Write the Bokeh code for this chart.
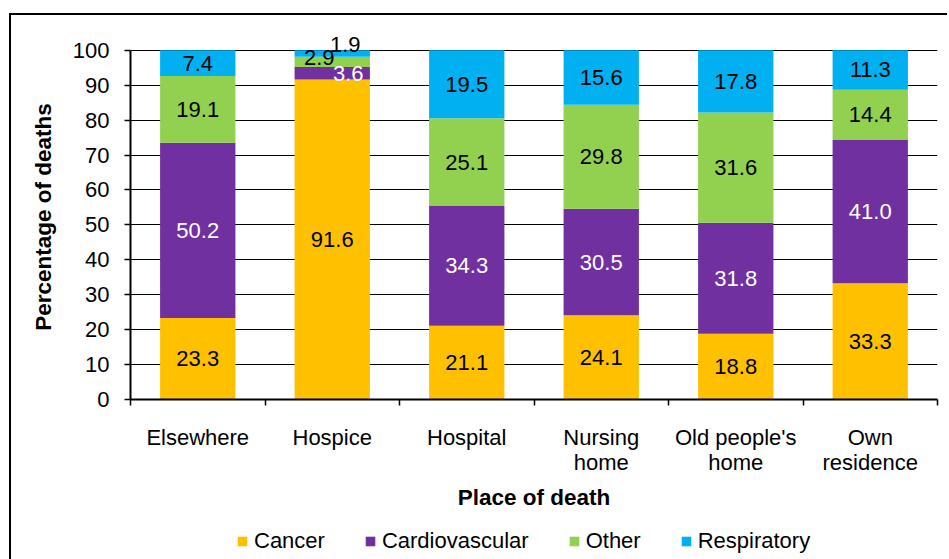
from bokeh.plotting import figure
from bokeh.layouts import column
from bokeh.models import (ColumnDataSource, FixedTicker, Legend, LegendItem,
                          LabelSet, Range1d)
from bokeh.core.properties import value
from bokeh.embed import file_html
from bokeh.resources import INLINE

places = ["Elsewhere", "Hospice", "Hospital", "Nursing\nhome",
          "Old people's\nhome", "Own\nresidence"]
causes = ["Cancer", "Cardiovascular", "Other", "Respiratory"]
cancer = [23.3, 91.6, 21.1, 24.1, 18.8, 33.3]
cardiovascular = [50.2, 3.6, 34.3, 30.5, 31.8, 41.0]
other = [19.1, 2.9, 25.1, 29.8, 31.6, 14.4]
respiratory = [7.4, 1.9, 19.5, 15.6, 17.8, 11.3]
y_ticks = [0, 10, 20, 30, 40, 50, 60, 70, 80, 90, 100]

colors = ["#FFC000", "#7030A0", "#92D050", "#00B0F0"]
label_colors = ["black", "white", "black", "black"]
FONT = "Liberation Sans"
FS = "22px"
TITLE_FS = "22.5px"

xs = [i + 0.5 for i in range(len(places))]
data = dict(x=xs, Cancer=cancer, Cardiovascular=cardiovascular,
            Other=other, Respiratory=respiratory)
src = ColumnDataSource(data)

p = figure(width=936, height=497, output_backend="svg", toolbar_location=None,
           x_range=Range1d(0, len(places)), y_range=Range1d(0, 104.5),
           min_border_left=119, min_border_right=10, min_border_top=19,
           min_border_bottom=113)
p.outline_line_color = None
p.background_fill_color = "white"
p.border_fill_color = "white"

rs = p.vbar_stack(causes, x="x", width=0.56, source=src, color=colors,
                  line_color=None)

# grid
p.xgrid.visible = False
p.ygrid.ticker = FixedTicker(ticks=y_ticks)
p.ygrid.grid_line_color = "black"
p.ygrid.grid_line_width = 1
p.ygrid.level = "underlay"

# y axis
p.yaxis.ticker = FixedTicker(ticks=y_ticks)
p.yaxis.bounds = (0, 100)
p.yaxis.axis_line_color = "black"
p.yaxis.axis_line_width = 2
p.yaxis.major_tick_out = 6
p.yaxis.major_tick_in = 0
p.yaxis.major_tick_line_width = 1.5
p.yaxis.minor_tick_line_color = None
p.yaxis.major_label_text_font = FONT
p.yaxis.major_label_text_font_size = FS
p.yaxis.major_label_text_color = "black"
p.yaxis.major_label_standoff = 15
p.yaxis.axis_label = "Percentage of deaths"
p.yaxis.axis_label_text_font = FONT
p.yaxis.axis_label_text_font_style = "bold"
p.yaxis.axis_label_text_font_size = TITLE_FS
p.yaxis.axis_label_text_color = "black"
p.yaxis.axis_label_standoff = 14

# x axis
p.xaxis.ticker = FixedTicker(ticks=xs, minor_ticks=list(range(len(places) + 1)))
p.xaxis.major_label_overrides = {x: n for x, n in zip(xs, places)}
p.xaxis.axis_line_color = "black"
p.xaxis.axis_line_width = 2
p.xaxis.major_tick_line_color = None
p.xaxis.minor_tick_out = 6
p.xaxis.minor_tick_in = 0
p.xaxis.minor_tick_line_width = 1.5
p.xaxis.major_label_text_font = FONT
p.xaxis.major_label_text_font_size = FS
p.xaxis.major_label_text_color = "black"
p.xaxis.major_label_text_line_height = 1.0
p.xaxis.major_label_standoff = 19
p.xaxis.axis_label = "Place of death"
p.xaxis.axis_label_text_font = FONT
p.xaxis.axis_label_text_font_style = "bold"
p.xaxis.axis_label_text_font_size = TITLE_FS
p.xaxis.axis_label_text_color = "black"
p.xaxis.axis_label_standoff = 7

# data labels
series = [cancer, cardiovascular, other, respiratory]
lx, ly, lt, lc, lo = [], [], [], [], []
for i, x in enumerate(xs):
    base = 0.0
    for k, s in enumerate(series):
        v = s[i]
        lx.append(x)
        ly.append(base + v / 2)
        lt.append(f"{v:.1f}")
        lc.append(label_colors[k])
        lo.append(0)
        base += v
# Hospice small segments: labels shifted as in the reference
hi = 1
idx_card = hi * 4 + 1
idx_oth = hi * 4 + 2
idx_resp = hi * 4 + 3
lo[idx_card] = 16
lo[idx_oth] = -13
ly[idx_oth] = 98.0
lo[idx_resp] = 13
ly[idx_resp] = 101.6
lsrc = ColumnDataSource(dict(x=lx, y=ly, text=lt, color=lc, xo=lo))
labels = LabelSet(x="x", y="y", text="text", source=lsrc, x_offset="xo",
                  text_color="color", text_align="center",
                  text_baseline="middle", text_font=value(FONT),
                  text_font_size=FS)
p.add_layout(labels)

# legend in its own strip below the chart (zero-height proxy glyphs)
p2 = figure(width=936, height=47, output_backend="svg", toolbar_location=None,
            x_axis_type=None, y_axis_type=None, min_border=0,
            x_range=Range1d(0, 1), y_range=Range1d(0, 1))
p2.outline_line_color = None
p2.background_fill_alpha = 0
p2.border_fill_alpha = 0
p2.grid.visible = False
proxies = [p2.vbar(x=[0.5], bottom=[0], top=[0], width=0.1, color=c,
                   line_color=None)
           for c in colors]
items = [LegendItem(label=c, renderers=[r]) for c, r in zip(causes, proxies)]
legend = Legend(items=items, orientation="horizontal", location=(106, 5),
                glyph_width=12, glyph_height=12, label_text_font=FONT,
                label_text_font_size=FS, label_text_color="black",
                spacing=39, padding=0, margin=0,
                border_line_color=None, background_fill_alpha=0,
                label_standoff=6, label_height=20)
p2.add_layout(legend, "center")

layout = column(p, p2, spacing=0)
layout.margin = (13, 0, 0, 9)
layout.styles = {"border-left": "2px solid black",
                 "border-top": "2px solid black"}

open("out.html", "w").write(file_html(layout, INLINE))
